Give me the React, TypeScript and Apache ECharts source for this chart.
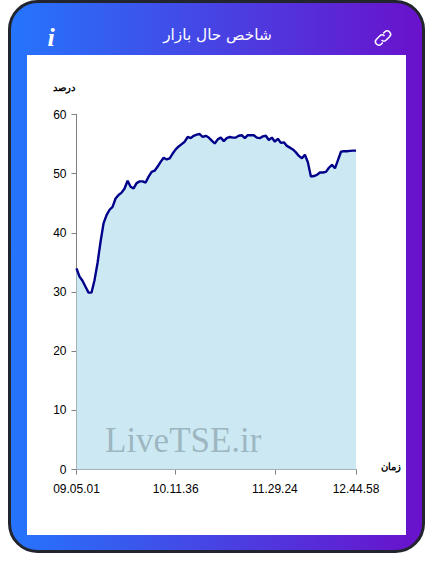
import React, { useEffect, useRef } from "react";
import * as echarts from "echarts";

const titleText = "شاخص حال بازار";
const yName = "درصد";
const xName = "زمان";
const watermark = "LiveTSE.ir";
const tickLabels: Record<number, string> = { 0: "09.05.01", 33: "10.11.36", 66: "11.29.24", 93: "12.44.58" };
const values = [
  34.0, 32.6, 31.9, 30.9, 29.9, 29.9, 32.0, 34.9, 38.5, 41.6, 43.0, 43.9, 44.4, 45.8, 46.4, 46.8,
  47.5, 48.8, 47.8, 47.5, 48.4, 48.7, 48.7, 48.5, 49.5, 50.3, 50.5, 51.2, 52.0, 52.7, 52.4, 52.6,
  53.4, 54.1, 54.6, 55.0, 55.4, 56.2, 56.0, 56.4, 56.6, 56.7, 56.2, 56.4, 56.1, 55.6, 55.1, 55.8,
  56.1, 55.5, 56.0, 56.2, 56.1, 56.1, 56.4, 56.5, 56.0, 56.5, 56.5, 56.5, 56.1, 56.0, 56.3, 56.4,
  55.7, 56.1, 55.4, 55.9, 55.2, 55.3, 54.7, 54.4, 54.1, 53.6, 53.0, 52.6, 53.2, 51.9, 49.5, 49.6,
  49.8, 50.2, 50.2, 50.3, 51.0, 51.5, 50.9, 52.3, 53.7, 53.8, 53.8, 53.85, 53.9, 53.9,
];
const categories = values.map((_, i) => tickLabels[i] ?? "");
const linkIcon =
  "M6 9.5a3.4 3.4 0 0 0 4.8 0l3.4-3.4a3.4 3.4 0 0 0-4.8-4.8l-1.6 1.6M9 5.5a3.4 3.4 0 0 0-4.8 0l-3.4 3.4a3.4 3.4 0 0 0 4.8 4.8l1.6-1.6";

export default function App() {
  const ref = useRef<HTMLDivElement>(null);
  useEffect(() => {
    document.body.style.margin = "0";
    echarts.graphic.registerShape("linkIcon", echarts.graphic.extendPath(linkIcon as any, {}) as any);
    const chart = echarts.init(ref.current!, null, { renderer: "svg" });
    const font = "'Liberation Sans', Arial, sans-serif";
    chart.setOption({
      animation: false,
      backgroundColor: "#fff",
      grid: { left: 76.5, top: 114.5, width: 279.5, height: 355, containLabel: false },
      xAxis: {
        type: "category",
        data: categories,
        boundaryGap: false,
        name: xName,
        nameLocation: "end",
        nameGap: 25,
        nameTextStyle: { color: "#000", fontSize: 9.5, fontWeight: "bold", fontFamily: font, align: "left", verticalAlign: "bottom", padding: [0, 0, -2, 0] },
        axisLine: { lineStyle: { color: "#808080", width: 1 } },
        axisTick: { length: 5, lineStyle: { color: "#808080" }, interval: (i: number, v: string) => v !== "" },
        axisLabel: { color: "#000", fontSize: 12, fontFamily: font, margin: 13, interval: (i: number, v: string) => v !== "", hideOverlap: false },
        splitLine: { show: false },
      },
      yAxis: {
        type: "value",
        min: 0,
        max: 60,
        interval: 10,
        name: yName,
        nameLocation: "end",
        nameGap: 22,
        nameTextStyle: { color: "#000", fontSize: 9.5, fontWeight: "bold", fontFamily: font, align: "right", padding: [0, 2, 0, 0] },
        axisLine: { show: true, lineStyle: { color: "#808080", width: 1 } },
        axisTick: { show: true, length: 5, lineStyle: { color: "#808080" } },
        axisLabel: { color: "#000", fontSize: 12, fontFamily: font, margin: 10 },
        splitLine: { show: false },
      },
      series: [
        {
          type: "line",
          data: values,
          showSymbol: false,
          smooth: false,
          lineStyle: { color: "#00008b", width: 2.4 },
          areaStyle: { color: "#cbe8f3", opacity: 1 },
        },
      ],
      graphic: {
        elements: [
          {
            type: "rect",
            z: -10,
            silent: true,
            shape: { x: 9.5, y: 1.5, width: 414, height: 550, r: 28 },
            style: {
              stroke: "#22252e",
              lineWidth: 3,
              fill: new echarts.graphic.LinearGradient(0, 0, 1, 0, [
                { offset: 0, color: "#2575fc" },
                { offset: 1, color: "#6a11cb" },
              ]),
            },
          },
          { type: "rect", z: -9, silent: true, shape: { x: 27, y: 55, width: 379, height: 480 }, style: { fill: "#fff" } },
          {
            type: "text", z: 10, silent: true, x: 217.5, y: 35,
            style: { text: titleText, fill: "#fff", font: "15.3px 'DejaVu Sans', sans-serif", align: "center", verticalAlign: "middle" },
          },
          {
            type: "text", z: 10, silent: true, x: 51, y: 37,
            style: { text: "i", fill: "#fff", font: "italic bold 26px 'Liberation Serif', serif", align: "center", verticalAlign: "middle" },
          },
          {
            type: "linkIcon", z: 10, silent: true, x: 375.5, y: 30.5,
            style: { fill: "none", stroke: "#fff", lineWidth: 1.5 },
          },
          {
            type: "text", z: 100, silent: true, x: 105, y: 440,
            style: { text: watermark, fill: "rgba(90,110,115,0.42)", font: "35px 'Liberation Serif', serif", align: "left", verticalAlign: "middle" },
          },
        ],
      },
    });
    return () => chart.dispose();
  }, []);
  return <div ref={ref} style={{ width: 433, height: 574 }} />;
}
